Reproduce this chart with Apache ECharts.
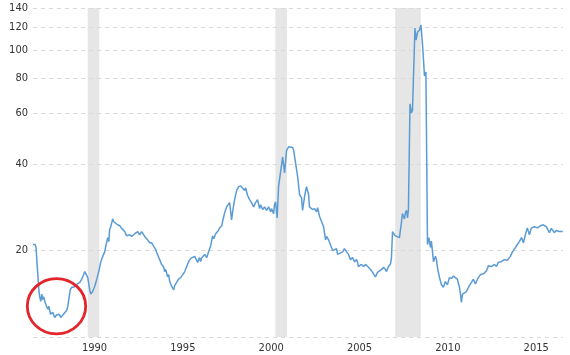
<!DOCTYPE html>
<html>
<head>
<meta charset="utf-8">
<script src="https://cdn.jsdelivr.net/npm/echarts@6/dist/echarts.min.js"></script>
<style>
html,body{margin:0;padding:0;background:#fff;}
#chart{width:570px;height:355px;}
</style>
</head>
<body>
<div id="chart"></div>
<script>
// Decimal years of each observation
var years = [
1987.40,1987.47,1987.52,1987.57,1987.61,1987.67,1987.73,1987.78,1987.84,1987.90,
1987.95,1988.01,1988.07,1988.12,1988.24,1988.29,1988.40,1988.52,1988.63,1988.72,
1988.80,1988.89,1988.97,1989.08,1989.19,1989.31,1989.37,1989.45,1989.51,1989.59,
1989.71,1989.82,1989.93,1990.05,1990.16,1990.27,1990.33,1990.41,1990.50,1990.61,
1990.67,1990.78,1990.89,1991.01,1991.12,1991.23,1991.35,1991.46,1991.54,1991.63,
1991.69,1991.74,1991.80,1991.86,1991.91,1991.97,1992.08,1992.19,1992.31,1992.42,
1992.59,1992.70,1992.76,1992.87,1992.99,1993.16,1993.33,1993.44,1993.55,1993.72,
1993.89,1994.00,1994.12,1994.23,1994.34,1994.40,1994.46,1994.57,1994.68,1994.80,
1994.85,1994.91,1995.02,1995.08,1995.14,1995.25,1995.31,1995.36,1995.42,1995.48,
1995.53,1995.64,1995.76,1995.87,1995.99,1996.10,1996.21,1996.33,1996.44,1996.55,
1996.66,1996.72,1996.83,1996.89,1996.95,1997.06,1997.12,1997.23,1997.34,1997.46,
1997.51,1997.57,1997.63,1997.74,1997.85,1997.97,1998.08,1998.14,1998.25,1998.36,
1998.47,1998.53,1998.59,1998.64,1998.70,1998.81,1998.93,1999.04,1999.10,1999.16,
1999.27,1999.38,1999.43,1999.55,1999.66,1999.77,1999.89,2000.00,2000.11,2000.23,
2000.28,2000.40,2000.51,2000.62,2000.74,2000.85,2000.90,2001.02,2001.07,2001.13,
2001.19,2001.22,2001.30,2001.41,2001.53,2001.64,2001.75,2001.87,2001.98,2002.09,
2002.15,2002.26,2002.38,2002.49,2002.60,2002.66,2002.77,2002.88,2003.00,2003.05,
2003.22,2003.34,2003.45,2003.51,2003.62,2003.73,2003.85,2003.96,2004.02,2004.13,
2004.24,2004.36,2004.47,2004.58,2004.64,2004.75,2004.92,2005.03,2005.15,2005.26,
2005.37,2005.49,2005.60,2005.71,2005.77,2005.82,2005.99,2006.11,2006.22,2006.39,
2006.50,2006.62,2006.73,2006.79,2006.90,2007.01,2007.13,2007.24,2007.35,2007.41,
2007.52,2007.64,2007.69,2007.75,2007.81,2007.92,2008.03,2008.14,2008.26,2008.31,
2008.37,2008.43,2008.48,2008.54,2008.60,2008.65,2008.74,2008.82,2008.88,2009.02,
2009.08,2009.17,2009.28,2009.36,2009.45,2009.56,2009.64,2009.73,2009.81,2009.90,
2009.95,2010.07,2010.18,2010.24,2010.29,2010.40,2010.52,2010.63,2010.74,2010.86,
2010.97,2011.09,2011.20,2011.31,2011.42,2011.54,2011.59,2011.65,2011.71,2011.82,
2011.93,2012.10,2012.22,2012.33,2012.44,2012.56,2012.73,2012.90,2013.07,2013.18,
2013.35,2013.52,2013.63,2013.74,2013.91,2014.08,2014.25,2014.42,2014.54,2014.71,
2014.82,2014.93,2015.05,2015.16,2015.27,2015.38,2015.50,2015.61,2015.78,2015.95,
2016.12,2016.29,2016.46,2016.63,2016.74,2016.91,2017.02,2017.19,2017.39
];
// PE ratio values
var peValues = [
21.0,20.7,21.0,20.5,20.7,20.3,14.6,13.8,13.3,14.1,
13.5,13.8,13.3,13.0,12.5,12.8,12.0,12.2,11.7,11.9,
11.8,12.0,11.7,11.9,12.0,12.4,12.8,13.8,14.6,14.9,
14.9,15.2,15.2,15.5,15.9,16.5,16.9,16.8,16.1,14.6,
14.1,14.4,15.0,15.9,16.9,18.2,19.1,19.8,21.0,22.2,
21.5,23.7,24.2,23.9,25.8,25.2,25.2,24.6,24.4,23.9,
23.3,22.5,22.2,22.7,22.4,22.9,23.3,22.7,23.3,22.4,
21.8,21.3,21.3,20.7,20.2,19.7,19.4,18.6,17.9,17.5,
16.9,17.2,16.2,16.5,15.6,15.0,15.2,14.6,15.1,14.9,
15.2,15.9,16.1,16.2,16.9,17.6,18.3,18.8,18.9,19.1,
19.2,18.2,18.9,18.3,18.9,18.8,19.4,18.9,19.8,20.8,
21.6,22.5,22.0,22.9,23.3,24.0,24.4,25.4,27.1,28.4,
28.2,29.4,27.3,25.6,27.3,30.1,32.4,33.4,32.9,33.6,
33.1,32.4,33.1,31.1,30.1,29.4,28.4,29.4,30.1,28.0,
28.9,27.8,28.4,27.6,28.4,27.3,28.0,26.9,28.9,29.6,
27.1,26.0,33.4,33.9,42.4,37.3,44.6,46.0,46.7,45.7,
44.9,40.5,36.2,31.3,30.6,27.6,30.8,33.4,31.3,28.4,
27.8,28.0,27.3,28.2,26.3,26.0,24.2,21.8,22.4,21.8,
21.5,20.0,20.2,20.3,19.4,19.1,19.8,20.3,19.8,19.4,
18.6,18.9,18.3,18.6,18.2,17.6,17.9,17.6,17.9,17.5,
17.2,16.8,16.9,16.2,16.8,16.9,17.2,17.5,17.2,16.9,
17.6,18.0,18.9,23.3,22.9,22.5,22.7,22.2,25.2,26.9,
27.3,25.8,27.1,27.6,26.0,27.8,64.9,60.4,61.5,119.3,
108.3,115.5,117.4,122.1,104.0,81.2,83.8,21.0,22.2,20.5,
21.6,18.3,19.1,18.6,17.5,16.2,15.2,14.9,15.6,15.2,
16.1,16.0,16.3,16.2,15.9,14.9,14.2,13.2,14.1,14.3,
14.4,15.1,15.5,15.9,15.3,15.9,16.5,16.6,17.0,17.7,
17.6,17.9,17.6,18.2,18.3,18.6,18.5,19.1,19.8,20.5,
21.0,21.5,22.2,21.3,22.7,24.0,22.7,24.0,24.2,24.0,
24.4,24.6,24.2,23.1,23.9,23.1,23.5,23.3,23.3
];
var xTickYears = [1990, 1995, 2000, 2005, 2010, 2015];
var yTickValues = [10, 20, 40, 60, 80, 100, 120, 140];
var recessionStarts = [1990.50, 2001.12, 2007.90];
var recessionEnds   = [1991.15, 2001.78, 2009.35];
var xRange = [1987.40, 2017.40];
var yRange = [10, 140];
var circleCenter = [1988.73, 12.8]; // annotation center in data units

var FONT = "'DejaVu Sans Condensed', 'DejaVu Sans', sans-serif";
var seriesData = years.map(function (y, i) { return [y, peValues[i]]; });

var chart = echarts.init(document.getElementById('chart'), null, { renderer: 'canvas' });
chart.setOption({
  animation: false,
  backgroundColor: '#ffffff',
  grid: { left: 33, right: 7, top: 8, bottom: 18, containLabel: false },
  xAxis: {
    type: 'value',
    min: xRange[0], max: xRange[1],
    axisLine: { show: false }, axisTick: { show: false }, splitLine: { show: false },
    axisLabel: {
      customValues: xTickYears,
      align: 'left',
      padding: [0, 0, 0, 3],
      margin: 6,
      color: '#333',
      fontSize: 11,
      fontFamily: FONT,
      formatter: function (v) { return String(Math.round(v)); }
    }
  },
  yAxis: {
    type: 'log',
    logBase: 10,
    min: yRange[0], max: yRange[1],
    axisLine: { show: false }, axisTick: { show: false },
    splitLine: { show: false }, axisLabel: { show: false }
  },
  series: [{
    type: 'line',
    data: seriesData,
    showSymbol: false,
    symbol: 'none',
    lineStyle: { color: '#5b9bd5', width: 1.5 },
    z: 5,
    markArea: {
      silent: true,
      itemStyle: { color: '#e6e6e6' },
      data: recessionStarts.map(function (s, i) {
        return [{ xAxis: s }, { xAxis: recessionEnds[i] }];
      })
    },
    markLine: {
      silent: true,
      symbol: ['none', 'none'],
      lineStyle: { color: '#d9d9d9', type: [4, 4], width: 1 },
      label: {
        position: 'start',
        distance: 5,
        color: '#333',
        fontSize: 11,
        fontFamily: FONT,
        formatter: function (p) { return p.value === 10 ? '' : String(p.value); }
      },
      emphasis: { disabled: true },
      data: yTickValues.map(function (v) { return { yAxis: v }; })
    }
  }]
});

var c = chart.convertToPixel({ gridIndex: 0 }, circleCenter);
chart.setOption({
  graphic: [{
    type: 'ellipse',
    silent: true,
    shape: { cx: c[0], cy: c[1], rx: 29.2, ry: 27.7 },
    style: { fill: 'none', stroke: '#e3262b', lineWidth: 2.8 },
    z: 100
  }]
});
</script>
</body>
</html>
